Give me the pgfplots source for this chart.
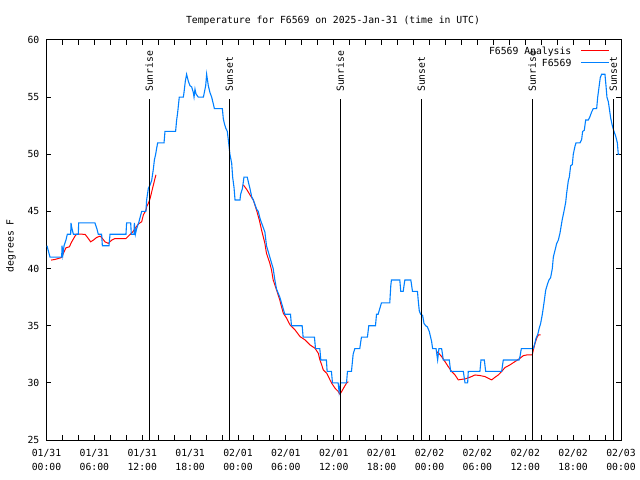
\documentclass[border=0pt]{standalone}
\usepackage{pgfplots}
\pgfplotsset{compat=1.18}
\usepackage{fontspec}
\setmainfont{DejaVu Sans Mono}
\definecolor{obsblue}{RGB}{0,128,255}
\definecolor{anared}{RGB}{255,0,0}
\newcommand\gf{\fontsize{9.8}{12.3}\selectfont}

\begin{document}
\begin{tikzpicture}
\begin{axis}[
  at={(0,0)}, anchor=south west,
  scale only axis, width=574.5bp, height=400bp,
  xmin=0, xmax=72, ymin=25, ymax=60,
  xtick={0,6,...,72}, minor x tick num=2,
  xticklabels={{01/31\\00:00},{01/31\\06:00},{01/31\\12:00},{01/31\\18:00},
               {02/01\\00:00},{02/01\\06:00},{02/01\\12:00},{02/01\\18:00},
               {02/02\\00:00},{02/02\\06:00},{02/02\\12:00},{02/02\\18:00},
               {02/03\\00:00}},
  ytick={25,30,...,60},
  tick align=inside,
  major tick length=5bp, minor tick length=5bp,
  every tick/.style={black, line width=1bp},
  axis line style={line width=1bp},
  /pgf/number format/assume math mode=true,
  xticklabel style={font={\fontsize{9.8}{13.2}\selectfont}, align=center, inner sep=0pt, anchor=north, yshift=-9.5bp},
  yticklabel style={font=\gf, inner sep=0pt, anchor=east, xshift=-7bp},
  title={Temperature for F6569 on 2025-Jan-31 (time in UTC)},
  every axis title/.style={at={(axis description cs:0.4987,1.0413)}, anchor=base, font=\gf, inner sep=0pt},
  ylabel={degrees F},
  every axis y label/.style={at={(axis description cs:-0.0618,0.486)}, rotate=90, anchor=center, font=\gf, inner sep=0pt},
  unbounded coords=jump,
  legend plot pos=right,
  legend cell align=right,
  legend image code/.code={\draw[#1] (0bp,0bp) -- (27.6bp,0bp);},
  legend style={at={(axis description cs:0.9796,0.989)}, anchor=north east,
    draw=none, fill=none, inner sep=0pt, row sep=0pt, column sep=9bp, font=\gf,
    nodes={inner sep=0pt, text height=9.6bp, text depth=2.4bp}},
]

% analysis curve: three separate runs
\addplot[anared, line width=1bp] coordinates {
  (0.57,40.74) (1.06,40.80) (1.48,40.88) (1.90,40.97) (2.11,41.32) (2.44,41.82)
  (2.86,41.90) (3.16,42.34) (3.57,42.84) (3.78,43.01) (4.83,43.00) (5.24,42.63)
  (5.53,42.34) (5.87,42.49) (6.28,42.72) (6.70,42.84) (6.91,42.72) (7.33,42.34)
  (7.75,42.20) (8.17,42.49) (8.59,42.63) (9.96,42.63) (10.38,42.92) (10.80,43.20)
  (11.09,43.50) (11.51,43.90) (11.72,44.00) (11.93,44.10) (12.14,44.70) (12.46,45.10)
  (12.55,45.40) (12.76,45.70) (12.97,46.10) (13.18,46.70) (13.39,47.30) (13.60,47.90)
  (13.72,48.20)
  (18,nan)
  (24.67,47.32) (25.08,46.94) (25.50,46.45) (25.92,46.00) (26.33,45.10) (26.67,44.25)
  (26.95,43.38) (27.16,42.80) (27.37,42.20) (27.57,41.33) (27.99,40.46) (28.20,39.88)
  (28.41,39.00) (28.83,38.13) (29.24,37.25) (29.45,36.67) (29.68,36.09) (30.10,35.65)
  (30.52,35.07) (31.15,34.63) (31.77,34.05) (32.40,33.76) (33.02,33.32) (33.65,33.03)
  (34.06,32.59) (34.27,32.00) (34.49,31.57) (34.69,31.13) (35.12,30.84) (35.53,30.26)
  (35.74,29.97) (36.16,29.53) (36.57,29.24) (36.78,29.00) (36.99,29.24) (37.28,29.60)
  (37.62,30.00) (37.83,30.10)
  (44,nan)
  (48.90,32.73) (49.23,32.53) (49.52,32.30) (49.94,31.86) (50.35,31.42) (50.78,30.99)
  (51.20,30.69) (51.61,30.26) (52.03,30.31) (52.45,30.34) (53.07,30.49) (53.70,30.69)
  (54.32,30.64) (54.95,30.55) (55.37,30.40) (55.79,30.26) (56.21,30.49) (56.62,30.69)
  (57.04,30.99) (57.46,31.34) (58.08,31.57) (58.71,31.86) (59.34,32.15) (59.76,32.38)
  (60.18,32.44) (60.88,32.44) (61.01,32.88) (61.22,33.46) (61.43,33.90) (61.64,34.19)
  (61.93,34.19)
};
\addlegendentry{F6569 Analysis}

% observations
\addplot[obsblue, line width=1.1bp] coordinates {
  (0.06,42) (0.44,41) (1.90,41) (1.95,42) (2.05,41.2) (2.20,42) (2.44,42.5) (2.61,43)
  (3.03,43) (3.07,44) (3.19,43.5) (3.37,43) (3.99,43) (4.03,44) (6.07,44) (6.31,43.5)
  (6.49,43) (6.91,43) (7.00,42) (7.83,42) (7.96,43) (9.96,43) (10.04,44) (10.55,44)
  (10.63,43) (10.97,43) (11.01,44) (11.14,43) (11.30,43.5) (11.55,44) (11.93,45)
  (12.46,45) (12.55,46) (12.76,47) (12.97,47.3) (13.18,47.7) (13.39,48.7) (13.52,49.5)
  (13.68,50) (13.80,50.5) (13.93,51) (14.73,51) (14.85,52) (16.18,52) (16.31,53)
  (16.43,53.6) (16.64,55) (17.15,55) (17.23,55.4) (17.40,56.4) (17.56,57) (17.77,56.4)
  (17.98,56) (18.19,55.9) (18.40,55.4) (18.49,55) (18.61,55.7) (18.73,55.3) (19.02,55)
  (19.66,55) (19.78,55.4) (19.95,56) (20.07,57) (20.28,56) (20.49,55.4) (20.70,55)
  (20.91,54.4) (21.04,54) (22.04,54) (22.16,53.1) (22.29,52.7) (22.46,52.3) (22.66,52)
  (22.83,51) (22.99,50) (23.21,49.2) (23.33,48) (23.50,47.1) (23.63,46) (24.25,46)
  (24.33,46.5) (24.55,47) (24.75,48) (25.16,48) (25.29,47.6) (25.50,47) (25.71,46.3)
  (25.92,46) (26.13,45.6) (26.33,45.2) (26.54,45) (26.75,44.4) (26.95,44) (27.37,43.2)
  (27.57,42) (27.99,41) (28.41,40) (28.62,39) (28.83,38.2) (29.24,37.5) (29.45,37)
  (29.87,36) (30.58,36) (30.70,35) (32.04,35) (32.16,34) (33.58,34) (33.71,33)
  (34.25,33) (34.38,32) (35.08,32) (35.17,31) (35.71,31) (35.84,30) (36.55,30)
  (36.67,29.2) (36.84,30) (37.60,30) (37.72,31) (38.22,31) (38.43,32.5) (38.64,33)
  (39.26,33) (39.47,34) (40.22,34) (40.39,35) (41.23,35) (41.36,36) (41.56,36)
  (41.77,36.5) (41.98,37) (43.02,37) (43.15,38.5) (43.23,39) (44.28,39) (44.40,38)
  (44.70,38) (44.91,39) (45.66,39) (45.87,38) (46.49,38) (46.59,37.2) (46.72,36.3)
  (46.89,36) (47.14,35.9) (47.31,35.2) (47.52,35) (47.73,34.9) (47.97,34.5) (48.14,34)
  (48.27,33.6) (48.39,33) (48.82,33) (48.90,32.6) (49.02,32) (49.18,33) (49.52,33)
  (49.73,32) (50.48,32) (50.65,31) (52.24,31) (52.45,30) (52.78,30) (52.86,31)
  (54.32,31) (54.45,32) (54.87,32) (55.04,31) (57.04,31) (57.25,32) (59.22,32)
  (59.34,32.3) (59.51,33) (61.01,33) (61.22,33.5) (61.35,33.9) (61.55,34.2) (61.76,34.8)
  (61.93,35.2) (62.14,36) (62.35,37) (62.56,38.1) (62.77,38.6) (62.97,39) (63.18,39.2)
  (63.39,40) (63.52,41) (63.73,41.6) (63.94,42.2) (64.15,42.5) (64.35,43.1) (64.64,44.3)
  (64.85,45) (65.07,45.8) (65.19,46.6) (65.40,47.7) (65.52,48) (65.69,49) (65.90,49.1)
  (66.02,50) (66.23,50.7) (66.36,51) (66.86,51) (67.07,51.3) (67.19,52) (67.40,52.1)
  (67.57,53) (67.91,53) (68.11,53.3) (68.32,53.7) (68.53,54) (68.95,54) (69.08,55)
  (69.25,55.9) (69.40,56.7) (69.57,57) (69.99,57) (70.12,56) (70.24,55) (70.41,54.6)
  (70.54,54) (70.70,53.2) (70.91,52.5) (71.12,52) (71.33,51.6) (71.54,51) (71.66,50)
  (71.80,50)
};
\addlegendentry{F6569}

% sunrise / sunset markers
\addplot[black, line width=1bp, forget plot] coordinates {(12.88,25) (12.88,54.83)};
\addplot[black, line width=1bp, forget plot] coordinates {(22.91,25) (22.91,54.83)};
\addplot[black, line width=1bp, forget plot] coordinates {(36.82,25) (36.82,54.83)};
\addplot[black, line width=1bp, forget plot] coordinates {(46.97,25) (46.97,54.83)};
\addplot[black, line width=1bp, forget plot] coordinates {(60.88,25) (60.88,54.83)};
\addplot[black, line width=1bp, forget plot] coordinates {(71.03,25) (71.03,54.83)};
\node[rotate=90, anchor=west, inner sep=0pt, font=\gf] at (axis cs:12.88,55.45) {Sunrise};
\node[rotate=90, anchor=west, inner sep=0pt, font=\gf] at (axis cs:22.91,55.45) {Sunset};
\node[rotate=90, anchor=west, inner sep=0pt, font=\gf] at (axis cs:36.82,55.45) {Sunrise};
\node[rotate=90, anchor=west, inner sep=0pt, font=\gf] at (axis cs:46.97,55.45) {Sunset};
\node[rotate=90, anchor=west, inner sep=0pt, font=\gf] at (axis cs:60.88,55.45) {Sunrise};
\node[rotate=90, anchor=west, inner sep=0pt, font=\gf] at (axis cs:71.03,55.45) {Sunset};
\end{axis}
\pgfresetboundingbox
\path (-46.5bp,-40bp) rectangle (593.5bp,440bp);
\end{tikzpicture}
\end{document}
